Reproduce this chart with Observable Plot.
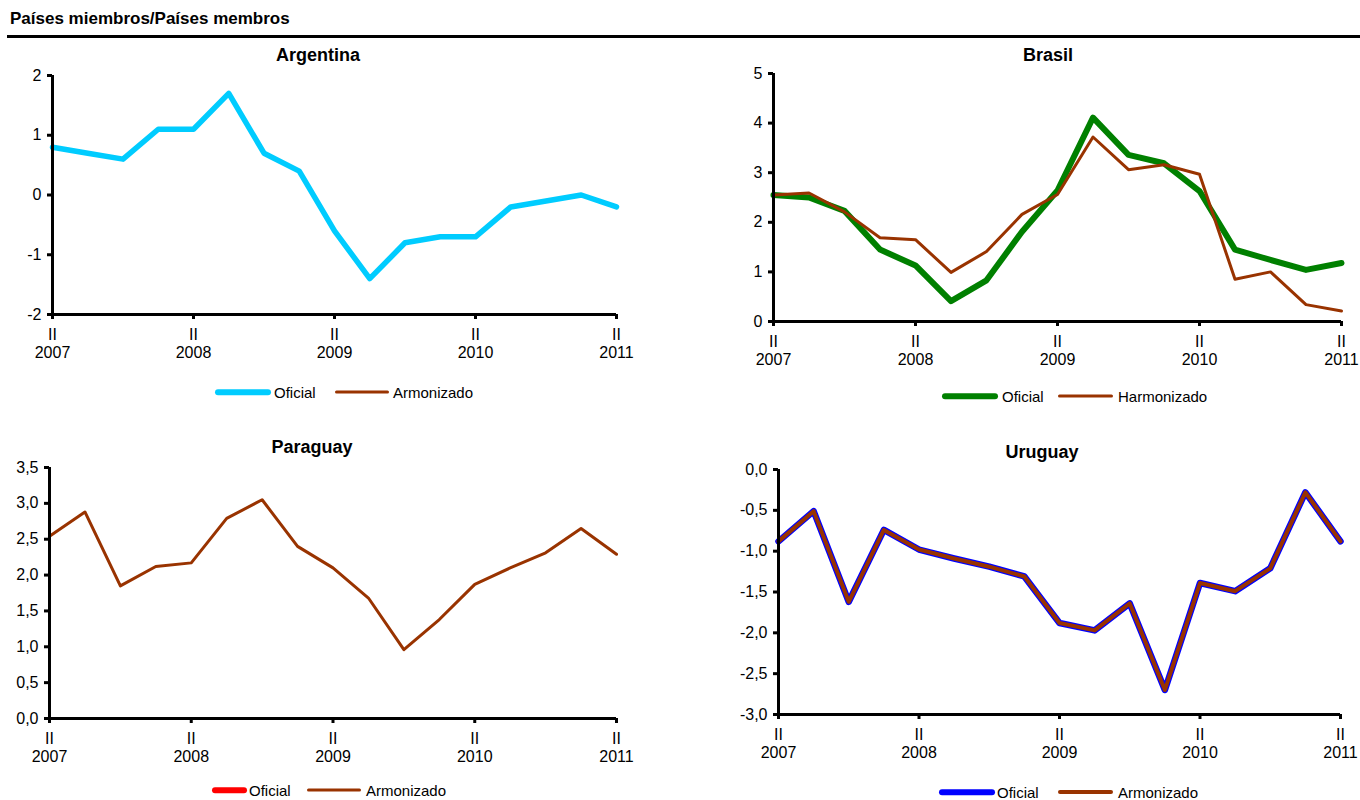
<!DOCTYPE html>
<html><head><meta charset="utf-8">
<script src="https://cdn.jsdelivr.net/npm/d3@7"></script>
<script src="https://cdn.jsdelivr.net/npm/@observablehq/plot@0.6"></script>
<style>
body{margin:0;background:#fff;font-family:"Liberation Sans",Arial,sans-serif;color:#000;}
#root{position:relative;width:1360px;height:800px;overflow:hidden;}
#root svg text{font-size:16px !important;font-family:"Liberation Sans",Arial,sans-serif !important;}
.abs{position:absolute;}
.title{font-weight:bold;font-size:18px;transform:translate(-50%,-50%);white-space:nowrap;}
.ltext{font-size:15px;transform:translateY(-50%);white-space:nowrap;}
.sw{transform:translateY(-50%);border-radius:3px;}
</style></head><body><div id="root"></div>
<script>
// Quarterly series, 2007 Q2 .. 2011 Q2 (17 quarters)
const quarters = ["2007 II","2007 III","2007 IV","2008 I","2008 II","2008 III","2008 IV","2009 I","2009 II","2009 III","2009 IV","2010 I","2010 II","2010 III","2010 IV","2011 I","2011 II"];
const tickQuarters = ["2007 II","2008 II","2009 II","2010 II","2011 II"];
const tickYears = ["2007","2008","2009","2010","2011"];

const argentinaOficial = [0.8,0.7,0.6,1.1,1.1,1.7,0.7,0.4,-0.6,-1.4,-0.8,-0.7,-0.7,-0.2,-0.1,0.0,-0.2];
const argentinaArmonizado = [];

const brasilOficial = [2.55,2.5,2.23,1.45,1.13,0.41,0.83,1.81,2.64,4.11,3.36,3.19,2.63,1.45,1.24,1.04,1.18];
const brasilHarmonizado = [2.55,2.59,2.21,1.69,1.65,0.99,1.41,2.16,2.56,3.72,3.06,3.16,2.97,0.85,1.0,0.34,0.21];

const paraguayOficial = [];
const paraguayArmonizado = [2.54,2.88,1.85,2.12,2.17,2.79,3.05,2.4,2.1,1.68,0.96,1.38,1.87,2.1,2.31,2.65,2.29];

const uruguayOficial = [-0.88,-0.51,-1.62,-0.74,-0.98,-1.09,-1.19,-1.31,-1.88,-1.97,-1.64,-2.7,-1.39,-1.49,-1.21,-0.28,-0.88];
const uruguayArmonizado = [-0.88,-0.51,-1.62,-0.74,-0.98,-1.09,-1.19,-1.31,-1.88,-1.97,-1.64,-2.7,-1.39,-1.49,-1.21,-0.28,-0.88];

const root = document.getElementById("root");
const FONT = "Liberation Sans, Arial, sans-serif";

function el(tag, cls, style, text) {
  const e = document.createElement(tag);
  if (cls) e.className = cls;
  Object.assign(e.style, style);
  if (text != null) e.textContent = text;
  root.appendChild(e);
  return e;
}

// Header
el("div", "abs", {left:"10px", top:"9px", fontWeight:"bold", fontSize:"17px"}, "Países miembros/Países membros");
el("div", "abs", {left:"7px", top:"35px", width:"1353px", height:"3px", background:"#000"});

const decFmt = d => d.toFixed(1).replace(".", ",");
const intFmt = d => String(d);

const panels = [
  {title:"Argentina", tx:318, ty:55, left:0, top:60, width:680, height:320, ml:52, mr:64, mt:15, mb:66,
   domain:[-2,2], ticks:[-2,-1,0,1,2], fmt:intFmt,
   series:[{values:argentinaOficial, color:"#00CCFF", w:5.5, label:"Oficial"},
           {values:argentinaArmonizado, color:"#993300", w:3, label:"Armonizado"}],
   legend:{y:392, items:[[215,271,274],[335,389,393]]}},
  {title:"Brasil", tx:1048, ty:55, left:680, top:60, width:680, height:320, ml:93, mr:19, mt:13, mb:59,
   domain:[0,5], ticks:[0,1,2,3,4,5], fmt:intFmt,
   series:[{values:brasilOficial, color:"#008000", w:6, label:"Oficial"},
           {values:brasilHarmonizado, color:"#993300", w:3, label:"Harmonizado"}],
   legend:{y:396, items:[[942,998,1002],[1058,1113,1118]]}},
  {title:"Paraguay", tx:312, ty:447, left:0, top:452, width:680, height:320, ml:49, mr:64, mt:15, mb:54,
   domain:[0,3.5], ticks:[0,0.5,1,1.5,2,2.5,3,3.5], fmt:decFmt,
   series:[{values:paraguayOficial, color:"#FF0000", w:5.5, label:"Oficial"},
           {values:paraguayArmonizado, color:"#993300", w:3, label:"Armonizado"}],
   legend:{y:790, items:[[212,247,249],[307,361,366]]}},
  {title:"Uruguay", tx:1042, ty:452, left:680, top:452, width:680, height:320, ml:98, mr:20, mt:17, mb:58,
   domain:[-3,0], ticks:[-3,-2.5,-2,-1.5,-1,-0.5,0], fmt:decFmt,
   series:[{values:uruguayOficial, color:"#0000FF", w:6.5, label:"Oficial"},
           {values:uruguayArmonizado, color:"#993300", w:4, label:"Armonizado"}],
   legend:{y:792, items:[[939,995,997],[1058,1113,1118]]}}
];

const yearOf = q => tickYears[tickQuarters.indexOf(q)];

for (const p of panels) {
  el("div", "abs title", {left:p.tx+"px", top:p.ty+"px"}, p.title);
  const marks = [];
  for (const s of p.series) {
    if (s.values.length) {
      marks.push(Plot.line(s.values, {x:(d,i)=>i, y:d=>d, stroke:s.color, strokeWidth:s.w, strokeLinejoin:"round", strokeLinecap:"round"}));
    }
  }
  marks.push(Plot.ruleX([0], {stroke:"#000", strokeWidth:3}));
  marks.push(Plot.ruleY([p.domain[0]], {stroke:"#000", strokeWidth:3}));
  marks.push(Plot.axisY({ticks:p.ticks, tickFormat:p.fmt, tickSize:5, tickPadding:6, strokeWidth:3, fontSize:16, fill:"#000"}));
  marks.push(Plot.axisX({ticks:tickQuarters.map(q => quarters.indexOf(q)), tickFormat:i => "II\n" + yearOf(quarters[i]),
    tickSize:5, tickPadding:7, strokeWidth:3, fontSize:16, lineHeight:1.15, fill:"#000"}));
  const chart = Plot.plot({
    width:p.width, height:p.height,
    marginLeft:p.ml, marginRight:p.mr, marginTop:p.mt, marginBottom:p.mb,
    x:{domain:[0, quarters.length-1]},
    y:{domain:p.domain},
    style:{fontFamily:FONT, fontSize:"16px", color:"#000", background:"transparent", overflow:"visible"},
    marks
  });
  chart.style.position = "absolute";
  chart.style.left = p.left + "px";
  chart.style.top = p.top + "px";
  root.appendChild(chart);
  // legend
  p.series.forEach((s, k) => {
    const [x1, x2, xt] = p.legend.items[k];
    el("div", "abs sw", {left:x1+"px", top:p.legend.y+"px", width:(x2-x1)+"px", height:Math.min(s.w,5.5)+"px", background:s.color});
    el("div", "abs ltext", {left:xt+"px", top:p.legend.y+"px"}, s.label);
  });
}
</script>
</body></html>
